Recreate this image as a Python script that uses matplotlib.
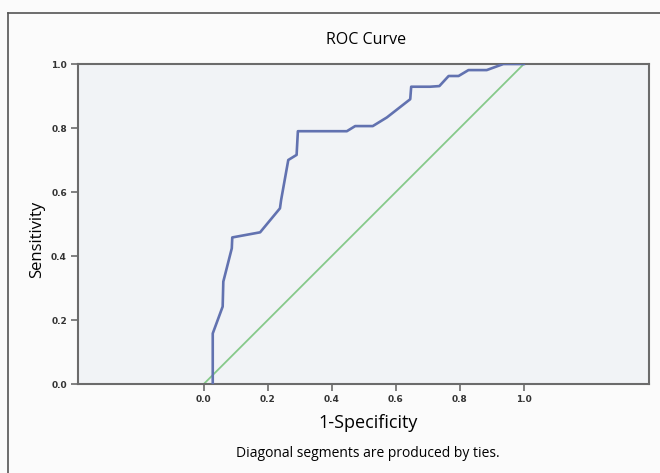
import matplotlib.pyplot as plt
from matplotlib.lines import Line2D

# ROC curve points
fpr = [0.028, 0.028, 0.059, 0.061, 0.0875, 0.089, 0.176, 0.238, 0.2416, 0.264, 0.29, 0.294,
       0.447, 0.473, 0.528, 0.572, 0.645, 0.648, 0.707, 0.736, 0.765, 0.796, 0.827, 0.884, 0.936, 1.0]
tpr = [0.0, 0.158, 0.242, 0.32, 0.424, 0.458, 0.474, 0.549, 0.575, 0.70, 0.716, 0.79,
       0.79, 0.806, 0.806, 0.833, 0.89, 0.929, 0.929, 0.931, 0.9625, 0.9625, 0.981, 0.981, 1.0, 1.0]
ref_line = [0.0, 1.0]
ticks = [0.0, 0.2, 0.4, 0.6, 0.8, 1.0]

FONT = 'Open Sans'
AXIS_GREY = '#6b6b6b'

fig = plt.figure(figsize=(6.6, 4.73), dpi=100, facecolor='#fbfbfb')
ax = fig.add_axes([78 / 660, 1 - 384 / 473, 571 / 660, 320 / 473])
ax.set_facecolor('#f1f3f6')

ax.plot(ref_line, ref_line, color='#86c98a', lw=1.3, zorder=2)
ax.plot(fpr, tpr, color='#6272b0', lw=1.9, zorder=3)

ax.set_xlim(-0.393, 1.391)
ax.set_ylim(0, 1)
ax.set_xticks(ticks)
ax.set_yticks(ticks)
ax.set_xticklabels([f'{t:.1f}' for t in ticks])
ax.set_yticklabels([f'{t:.1f}' for t in ticks])
ax.tick_params(direction='out', length=5, width=1.2, color=AXIS_GREY, labelsize=6.5, pad=3)
for lbl in ax.get_xticklabels() + ax.get_yticklabels():
    lbl.set_fontweight('bold')
    lbl.set_color('#333333')
for side in ['left', 'right', 'top', 'bottom']:
    ax.spines[side].set_color(AXIS_GREY)
    ax.spines[side].set_linewidth(1.5)

fig.text(366 / 660, 1 - 40 / 473, 'ROC Curve', ha='center', va='center', fontsize=11.5, family=FONT)
fig.text(37 / 660, 1 - 239 / 473, 'Sensitivity', ha='center', va='center', rotation=90,
         fontsize=12, family=FONT)
fig.text(368 / 660, 1 - 423 / 473, '1-Specificity', ha='center', va='center', fontsize=13, family=FONT)
fig.text(368 / 660, 1 - 453 / 473, 'Diagonal segments are produced by ties.', ha='center', va='center',
         fontsize=10, family=FONT)

# outer frame of the output (only left and top visible)
fig.add_artist(Line2D([8 / 660, 8 / 660], [0, 1 - 13 / 473], transform=fig.transFigure,
                      color='#555555', lw=1.2))
fig.add_artist(Line2D([8 / 660, 1], [1 - 13 / 473, 1 - 13 / 473], transform=fig.transFigure,
                      color='#555555', lw=1.2))

fig.savefig('out.png', dpi=100, facecolor=fig.get_facecolor())
